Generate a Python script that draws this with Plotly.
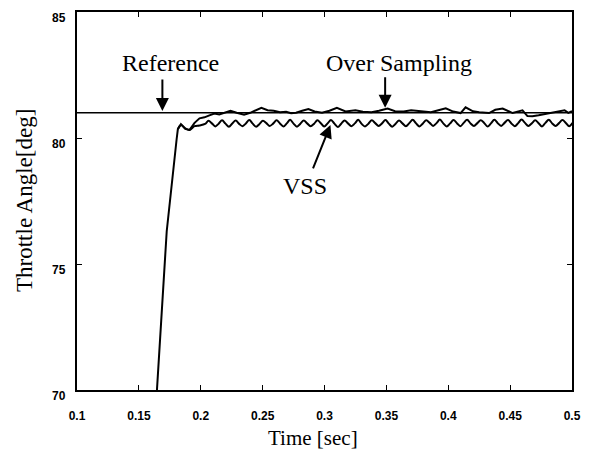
import numpy as np
import plotly.graph_objects as go

# ---------------- data ----------------
ref_t = [0.1, 0.5]
ref_v = [81.0, 81.0]

os_t = [0.1646, 0.1725, 0.1805, 0.1815, 0.184, 0.1875, 0.191, 0.195, 0.199, 0.203, 0.207, 0.211,
        0.215, 0.219, 0.224, 0.229, 0.235, 0.240, 0.245, 0.249, 0.254, 0.259, 0.264, 0.269,
        0.273, 0.277, 0.282, 0.287, 0.292, 0.298, 0.304, 0.310, 0.317, 0.325, 0.331, 0.338,
        0.344, 0.351, 0.357, 0.364, 0.370, 0.375, 0.381, 0.386, 0.392, 0.398, 0.404, 0.410,
        0.414, 0.420, 0.425, 0.433, 0.438, 0.444, 0.452, 0.460, 0.464, 0.468, 0.473, 0.478,
        0.483, 0.489, 0.494, 0.497, 0.500]
os_v = [70, 76.3, 79.95, 80.35, 80.55, 80.36, 80.32, 80.6, 80.78, 80.82, 80.9, 80.97,
        80.93, 81.0, 81.08, 81.0, 80.92, 81.0, 81.12, 81.2, 81.1, 81.08, 81.02, 81.04,
        80.98, 81.0, 81.08, 81.15, 81.05, 81.0, 81.08, 81.2, 81.05, 81.1, 81.04, 81.02,
        81.08, 81.17, 81.06, 81.05, 81.1, 81.08, 81.03, 81.02, 81.1, 81.18, 81.05, 80.99,
        81.22, 81.06, 81.02, 80.99, 81.12, 81.17, 80.99, 81.1, 80.87, 80.86, 80.9, 80.95,
        81.0, 81.07, 81.1, 81.0, 81.07]

vss_head_t = [0.1815, 0.184, 0.1875, 0.191, 0.195, 0.199]
vss_head_v = [80.35, 80.52, 80.38, 80.32, 80.47, 80.5]
vss_wave_v = [
    80.56, 80.68, 80.58, 80.46, 80.57, 80.70, 80.57, 80.45, 80.58, 80.69, 80.56, 80.47,
    80.58, 80.71, 80.57, 80.45, 80.56, 80.68, 80.59, 80.48, 80.57, 80.70, 80.58, 80.46,
    80.58, 80.72, 80.57, 80.45, 80.57, 80.69, 80.58, 80.47, 80.56, 80.70, 80.59, 80.46,
    80.58, 80.71, 80.57, 80.44, 80.57, 80.69, 80.58, 80.47, 80.58, 80.72, 80.56, 80.46,
    80.57, 80.70, 80.59, 80.48, 80.58, 80.71, 80.57, 80.45, 80.57, 80.69, 80.58, 80.47,
    80.59, 80.72, 80.58, 80.46, 80.58, 80.70, 80.60, 80.48, 80.59, 80.73, 80.58, 80.46,
    80.58, 80.71, 80.59, 80.47, 80.60, 80.72, 80.58, 80.48, 80.59, 80.70, 80.60, 80.46,
    80.58, 80.72, 80.59, 80.48, 80.60, 80.71, 80.58, 80.47, 80.59, 80.73, 80.60, 80.48,
    80.58, 80.70, 80.59, 80.46, 80.60, 80.72, 80.58, 80.48, 80.59, 80.71, 80.60, 80.47,
    80.60]
vss_wave_t = list(np.round(0.2035 + 0.00275 * np.arange(len(vss_wave_v)), 5))
vss_t = vss_head_t + vss_wave_t
vss_v = vss_head_v + vss_wave_v

x_ticks = [0.1, 0.15, 0.2, 0.25, 0.3, 0.35, 0.4, 0.45, 0.5]
x_tick_text = ["0.1", "0.15", "0.2", "0.25", "0.3", "0.35", "0.4", "0.45", "0.5"]
y_ticks = [70, 75, 80, 85]
y_tick_text = ["70", "75", "80", "85"]

SERIF = "Liberation Serif, Times New Roman, serif"
SANS = "Liberation Sans, Arial, sans-serif"

fig = go.Figure()
fig.add_trace(go.Scatter(x=ref_t, y=ref_v, mode="lines",
                         line=dict(color="black", width=1.5), showlegend=False))
fig.add_trace(go.Scatter(x=os_t, y=os_v, mode="lines",
                         line=dict(color="black", width=2), showlegend=False))
fig.add_trace(go.Scatter(x=vss_t, y=vss_v, mode="lines",
                         line=dict(color="black", width=2, shape="spline", smoothing=1.0),
                         showlegend=False))

ann = []
# y tick labels (slightly below their ticks as in the original)
for v, s in zip(y_ticks, y_tick_text):
    ann.append(dict(x=0, xref="paper", y=v, yref="y", text=s, showarrow=False,
                    xanchor="right", yanchor="middle", xshift=-9, yshift=-6,
                    font=dict(family=SANS, size=12, color="#000000", weight="bold")))
# axis titles
ann.append(dict(x=0, xref="paper", y=0.5, yref="paper", text="Throttle Angle[deg]",
                showarrow=False, textangle=-90, xanchor="center", yanchor="middle",
                xshift=-53, font=dict(family=SERIF, size=23, color="#000000")))
ann.append(dict(x=0.476, xref="paper", y=0, yref="paper", text="Time [sec]",
                showarrow=False, xanchor="center", yanchor="bottom", yshift=-62,
                font=dict(family=SERIF, size=21, color="#000000")))
# labels
ann.append(dict(x=0.1754, y=82.98, text="Reference", showarrow=False,
                font=dict(family=SERIF, size=24, color="#000000")))
ann.append(dict(x=0.360, y=82.98, text="Over Sampling", showarrow=False,
                font=dict(family=SERIF, size=24, color="#000000")))
ann.append(dict(x=0.284, y=78.1, text="VSS", showarrow=False,
                font=dict(family=SERIF, size=24, color="#000000")))
# arrows
arrow_style = dict(text="", showarrow=True, arrowhead=2, arrowsize=1.3, arrowwidth=2,
                   arrowcolor="black", axref="pixel", ayref="pixel")
ann.append(dict(x=0.169, y=81.07, ax=0, ay=-33, **arrow_style))
ann.append(dict(x=0.349, y=81.2, ax=0, ay=-32, **arrow_style))
ann.append(dict(x=0.3048, y=80.52, ax=-18, ay=45, **arrow_style))

fig.update_layout(
    width=591, height=452,
    margin=dict(l=77, r=10, t=12, b=62),
    paper_bgcolor="white", plot_bgcolor="white",
    annotations=ann,
    showlegend=False,
)
fig.update_xaxes(range=[0.1, 0.5], tickvals=x_ticks, ticktext=x_tick_text,
                 ticks="inside", ticklen=5, tickwidth=1, tickcolor="black",
                 showline=True, linecolor="black", linewidth=2, mirror="ticks",
                 showgrid=False, zeroline=False, ticklabelstandoff=14,
                 tickfont=dict(family=SANS, size=12, color="black", weight="bold"))
fig.update_yaxes(range=[70, 85], tickvals=y_ticks, showticklabels=False,
                 ticks="inside", ticklen=5, tickwidth=1, tickcolor="black",
                 showline=True, linecolor="black", linewidth=2, mirror="ticks",
                 showgrid=False, zeroline=False)

fig.write_html("out.html")
